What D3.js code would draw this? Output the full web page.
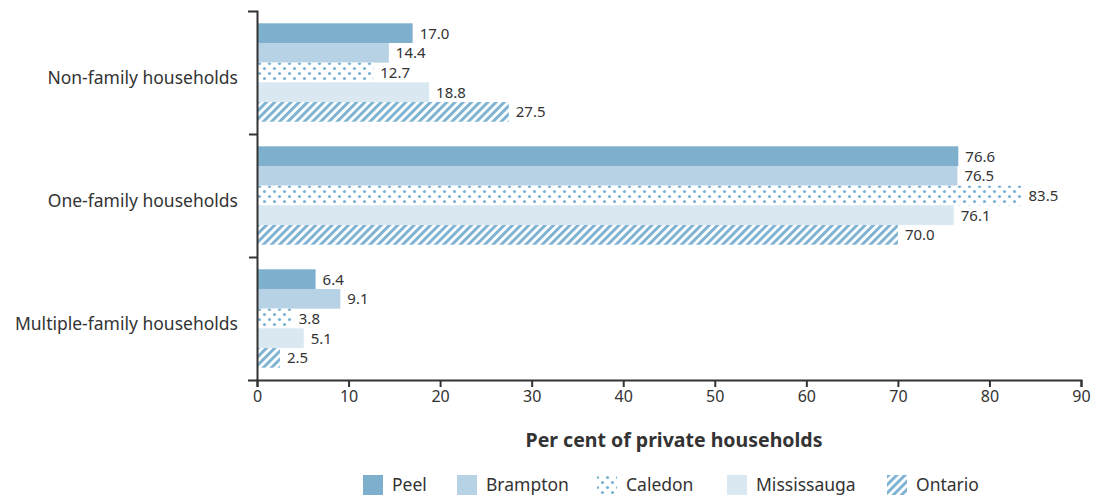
<!DOCTYPE html>
<html>
<head>
<meta charset="utf-8">
<script src="https://cdnjs.cloudflare.com/ajax/libs/d3/7.8.5/d3.min.js"></script>
<style>
  body { margin: 0; background: #fff; }
  text { font-family: "Noto Sans", "Open Sans", sans-serif; fill: #333; }
</style>
</head>
<body>
<div id="chart"></div>
<script>
// data
var categories = ["Non-family households", "One-family households", "Multiple-family households"];
var regions = ["Peel", "Brampton", "Caledon", "Mississauga", "Ontario"];
var peel = [17.0, 76.6, 6.4];
var brampton = [14.4, 76.5, 9.1];
var caledon = [12.7, 83.5, 3.8];
var mississauga = [18.8, 76.1, 5.1];
var ontario = [27.5, 70.0, 2.5];
var xTicks = [0, 10, 20, 30, 40, 50, 60, 70, 80, 90];

var seriesValues = [peel, brampton, caledon, mississauga, ontario];
var fills = ["#7eb0cd", "#b8d2e5", "url(#dots)", "#d9e8f1", "url(#stripes)"];

var svgWidth = 1095, svgHeight = 498;
var margin = { top: 11, right: 14, bottom: 118, left: 257 };
var width = svgWidth - margin.left - margin.right;
var height = svgHeight - margin.top - margin.bottom;

var svg = d3.select("#chart").append("svg")
  .attr("width", svgWidth)
  .attr("height", svgHeight);

// patterns
var defs = svg.append("defs");
var dots = defs.append("pattern")
  .attr("id", "dots")
  .attr("patternUnits", "userSpaceOnUse")
  .attr("width", 10).attr("height", 10);
dots.append("rect").attr("width", 10).attr("height", 10).attr("fill", "#fff");
dots.append("circle").attr("cx", 2.5).attr("cy", 2.5).attr("r", 1.6).attr("fill", "#7eb3d3");
dots.append("circle").attr("cx", 7.5).attr("cy", 7.5).attr("r", 1.6).attr("fill", "#7eb3d3");

var stripes = defs.append("pattern")
  .attr("id", "stripes")
  .attr("patternUnits", "userSpaceOnUse")
  .attr("width", 5.8).attr("height", 10)
  .attr("patternTransform", "rotate(45)");
stripes.append("rect").attr("width", 5.8).attr("height", 10).attr("fill", "#fff");
stripes.append("rect").attr("width", 3).attr("height", 10).attr("fill", "#7eb3d3");

var chartGroup = svg.append("g")
  .attr("transform", `translate(${margin.left}, ${margin.top})`);

// scales
var xScale = d3.scaleLinear().domain([0, 90]).range([0, width]);
var yBand = d3.scaleBand().domain(categories).range([0, height]).paddingInner(0).paddingOuter(0);
var ySub = d3.scaleBand().domain(regions)
  .range([yBand.bandwidth() * 0.1, yBand.bandwidth() * 0.9]);
var yBound = d3.scaleLinear().domain([0, 3]).range([0, height]);

// bars
categories.forEach(function(cat, ci) {
  var g = chartGroup.append("g").attr("transform", `translate(0, ${yBand(cat)})`);
  regions.forEach(function(r, ri) {
    var v = seriesValues[ri][ci];
    g.append("rect")
      .attr("x", 0)
      .attr("y", ySub(r))
      .attr("width", xScale(v))
      .attr("height", ySub.bandwidth())
      .attr("fill", fills[ri]);
    g.append("text")
      .attr("x", xScale(v) + 7)
      .attr("y", ySub(r) + ySub.bandwidth() / 2)
      .attr("dy", "0.36em")
      .attr("font-size", 15)
      .text(v.toFixed(1));
  });
});

// x axis
var xAxis = d3.axisBottom(xScale).tickValues(xTicks).tickSizeInner(7).tickSizeOuter(7).tickPadding(4);
var xg = chartGroup.append("g")
  .attr("transform", `translate(0, ${height})`)
  .call(xAxis);
xg.selectAll("text").attr("font-size", 16).style("font-family", "'Noto Sans', sans-serif").attr("fill", "#333");

// y axis (boundary ticks)
var yAxis = d3.axisLeft(yBound).tickValues([1, 2]).tickSizeInner(8).tickSizeOuter(9).tickFormat("");
chartGroup.append("g").call(yAxis);

chartGroup.selectAll(".domain, .tick line").attr("stroke", "#333").attr("stroke-width", 2);

// category labels
chartGroup.selectAll(".catLabel")
  .data(categories)
  .enter()
  .append("text")
  .attr("class", "catLabel")
  .attr("x", -19)
  .attr("y", d => yBand(d) + yBand.bandwidth() / 2 + 5)
  .attr("dy", "0.36em")
  .attr("text-anchor", "end")
  .attr("font-size", 17.5)
  .text(d => d);

// axis title
chartGroup.append("text")
  .attr("x", width / 2 + 5)
  .attr("y", height + 67)
  .attr("text-anchor", "middle")
  .attr("font-size", 19.5)
  .attr("font-weight", "bold")
  .text("Per cent of private households");

// legend
var legendX = [363, 457, 597, 727, 887];
var legend = svg.append("g");
regions.forEach(function(r, i) {
  legend.append("rect")
    .attr("x", legendX[i]).attr("y", 475)
    .attr("width", 20).attr("height", 20)
    .attr("fill", fills[i]);
  legend.append("text")
    .attr("x", legendX[i] + 29).attr("y", 485)
    .attr("dy", "0.36em")
    .attr("font-size", 17.5)
    .text(r);
});
</script>
</body>
</html>
